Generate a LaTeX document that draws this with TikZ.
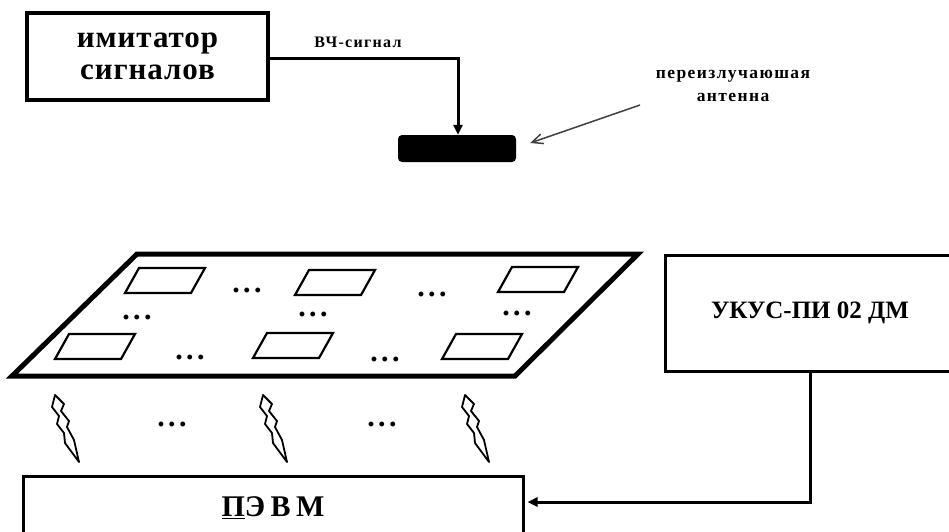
\documentclass[tikz,border=0pt]{standalone}
\usepackage{fontspec}
\setmainfont{Liberation Serif}
\newfontfamily\spaced[LetterSpace=8]{Liberation Serif}
\newfontfamily\spacedwide[LetterSpace=18]{Liberation Serif}
\newfontfamily\bigspaced[LetterSpace=3]{Liberation Serif}
\usetikzlibrary{arrows.meta}
\begin{document}
\begin{tikzpicture}[x=1pt,y=-1pt,
  box/.style={draw, line width=3pt, inner sep=0pt, align=center},
  conn/.style={line width=3pt},
  thinconn/.style={line width=1.5pt, draw=black!75},
  cellline/.style={line width=2.2pt, line join=miter},
  dotsnode/.style={font=\fontsize{30}{30}\selectfont\bfseries, inner sep=0pt, anchor=base},
  cell/.pic={\draw[cellline] (0,0) -- (66,0) -- (80,-25) -- (14,-25) -- cycle;},
  bolt/.pic={\draw[line width=1.8pt, line join=round] (0,0) -- (9,9) -- (6,16) -- (14,26) -- (12,32) -- (19,45) -- (24,67) -- (10,48) -- (9,38) -- (2,29) -- (4,21) -- (-3,12) -- cycle;}
]
\useasboundingbox (0,0) rectangle (949,531);
\clip (0,0) rectangle (949,531);
\newcommand{\dd}{.\hspace{3.5pt}.\hspace{3.5pt}.}

% top: imitator
\node[box, line width=3.2pt, minimum width=241pt, minimum height=87pt,
      font=\bigspaced\fontsize{31}{32}\selectfont\bfseries] (imit) at (147.5,56.5) {имитатор\\сигналов};
\node[fill=black, rounded corners=4pt, minimum width=118pt, minimum height=27pt, inner sep=0pt] (ant) at (457,148.5) {};
\draw[conn, -{Triangle[length=10pt,width=9pt]}] ([yshift=-1.5pt]imit.east) -| ([xshift=1pt]ant.north);
\node[font=\spaced\fontsize{16}{16}\selectfont\bfseries, inner sep=0pt] (vch) at (358,42) {ВЧ-сигнал};
\node[font=\spaced\fontsize{17.5}{23}\selectfont\bfseries, inner sep=0pt, align=center] (lbl) at (733,86) {переизлучаюшая\\антенна};
\coordinate (atail) at (640,105);
\draw[thinconn, -{Straight Barb[length=11pt,width=10pt]}] (atail) -- ([xshift=14pt,yshift=5.5pt]ant.east);

% plate
\draw[line width=5pt, line join=miter] (12,376) -- (137,254) -- (638,254) -- (515,376) -- cycle;
\pic at (125,293) {cell};
\pic at (295,295) {cell};
\pic at (498,292) {cell};
\pic at (55,359) {cell};
\pic at (253,358) {cell};
\pic at (442,359) {cell};
\node[dotsnode] (d1) at (247,292) {\dd};
\node[dotsnode] (d2) at (432,296) {\dd};
\node[dotsnode] (d3) at (137,319) {\dd};
\node[dotsnode] (d4) at (313,316) {\dd};
\node[dotsnode] (d5) at (517,315) {\dd};
\node[dotsnode] (d6) at (190,359) {\dd};
\node[dotsnode] (d7) at (385,361) {\dd};

% bolts
\pic at (55,395) {bolt};
\pic at (263,395) {bolt};
\pic at (465,395) {bolt};
\node[dotsnode] (d8) at (172,426) {\dd};
\node[dotsnode] (d9) at (382,426) {\dd};

% UKUS
\node[box, minimum width=290pt, minimum height=116pt,
      font=\fontsize{25}{26}\selectfont\bfseries] (ukus) at (810,313) {УКУС-ПИ 02 ДМ};

% PEVM
\node[box, minimum width=500pt, minimum height=64pt,
      font=\spacedwide\fontsize{30}{30}\selectfont\bfseries] (pevm) at (273,508) {\underline{П}ЭВМ};
\draw[conn, -{Triangle[length=10pt,width=9pt]}] (ukus.south) |- ([yshift=6pt,xshift=3pt]pevm.east);
\end{tikzpicture}
\end{document}
